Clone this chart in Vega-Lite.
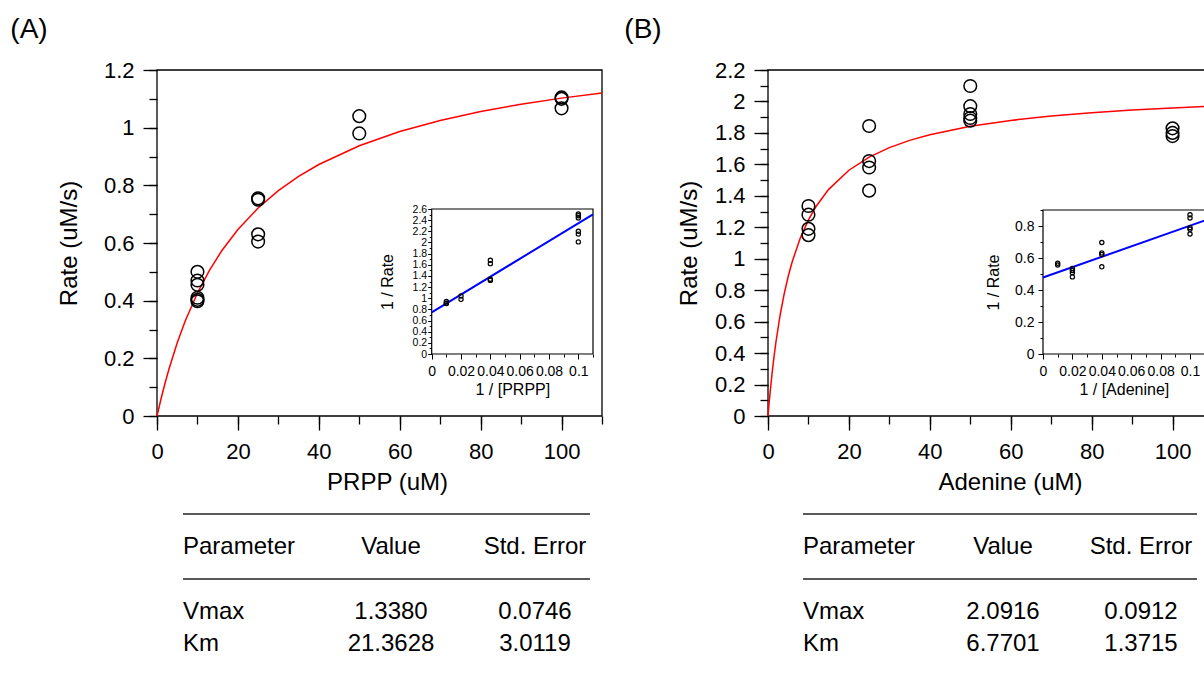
{
  "$schema": "https://vega.github.io/schema/vega-lite/v6.json",
  "width": 1204,
  "height": 674,
  "padding": 0,
  "autosize": {"type": "none"},
  "background": "white",
  "config": {
    "view": {"stroke": null},
    "font": "Liberation Sans",
    "axis": {"grid": false, "domain": false, "tickColor": "#000", "tickWidth": 1.3, "labelColor": "#000", "titleColor": "#000", "titleFontWeight": "normal", "labelOverlap": false, "labelFlush": false, "labelBound": false, "labelFont": "Liberation Sans", "titleFont": "Liberation Sans"}
  },
  "datasets": {
    "mainA": [
      {"conc": 10, "rate": 0.5}, {"conc": 10, "rate": 0.47}, {"conc": 10, "rate": 0.455}, {"conc": 10, "rate": 0.41}, {"conc": 10, "rate": 0.403}, {"conc": 10, "rate": 0.398},
      {"conc": 25, "rate": 0.755}, {"conc": 25, "rate": 0.75}, {"conc": 25, "rate": 0.63}, {"conc": 25, "rate": 0.605},
      {"conc": 50, "rate": 1.04}, {"conc": 50, "rate": 0.98},
      {"conc": 100, "rate": 1.105}, {"conc": 100, "rate": 1.1}, {"conc": 100, "rate": 1.067}
    ],
    "curveA": [
      {"conc": 0, "rate": 0}, {"conc": 1, "rate": 0.05983}, {"conc": 2, "rate": 0.11454}, {"conc": 3, "rate": 0.16476}, {"conc": 5, "rate": 0.25377}, {"conc": 7, "rate": 0.33022}, {"conc": 10, "rate": 0.42662}, {"conc": 13, "rate": 0.50618}, {"conc": 16, "rate": 0.57297}, {"conc": 20, "rate": 0.64695}, {"conc": 25, "rate": 0.72148}, {"conc": 30, "rate": 0.7815}, {"conc": 35, "rate": 0.83087}, {"conc": 40, "rate": 0.87219}, {"conc": 50, "rate": 0.93746}, {"conc": 60, "rate": 0.98669}, {"conc": 70, "rate": 1.02514}, {"conc": 80, "rate": 1.05601}, {"conc": 90, "rate": 1.08133}, {"conc": 100, "rate": 1.10248}, {"conc": 110, "rate": 1.12041}
    ],
    "insetA": [
      {"inv_conc": 0.01, "inv_rate": 0.94}, {"inv_conc": 0.01, "inv_rate": 0.91}, {"inv_conc": 0.01, "inv_rate": 0.905},
      {"inv_conc": 0.02, "inv_rate": 1.04}, {"inv_conc": 0.02, "inv_rate": 0.98},
      {"inv_conc": 0.04, "inv_rate": 1.68}, {"inv_conc": 0.04, "inv_rate": 1.62}, {"inv_conc": 0.04, "inv_rate": 1.34}, {"inv_conc": 0.04, "inv_rate": 1.32},
      {"inv_conc": 0.1, "inv_rate": 2.51}, {"inv_conc": 0.1, "inv_rate": 2.48}, {"inv_conc": 0.1, "inv_rate": 2.44}, {"inv_conc": 0.1, "inv_rate": 2.2}, {"inv_conc": 0.1, "inv_rate": 2.15}, {"inv_conc": 0.1, "inv_rate": 2.01}
    ],
    "lineA": [{"inv_conc": 0, "inv_rate": 0.7474}, {"inv_conc": 0.11, "inv_rate": 2.5037}],
    "mainB": [
      {"conc": 10, "rate": 1.335}, {"conc": 10, "rate": 1.28}, {"conc": 10, "rate": 1.19}, {"conc": 10, "rate": 1.15},
      {"conc": 25, "rate": 1.844}, {"conc": 25, "rate": 1.621}, {"conc": 25, "rate": 1.58}, {"conc": 25, "rate": 1.433},
      {"conc": 50, "rate": 2.098}, {"conc": 50, "rate": 1.97}, {"conc": 50, "rate": 1.92}, {"conc": 50, "rate": 1.895}, {"conc": 50, "rate": 1.878},
      {"conc": 100, "rate": 1.829}, {"conc": 100, "rate": 1.8}, {"conc": 100, "rate": 1.78}
    ],
    "curveB": [
      {"conc": 0, "rate": 0}, {"conc": 0.25, "rate": 0.07449}, {"conc": 0.5, "rate": 0.14385}, {"conc": 1, "rate": 0.26918}, {"conc": 1.5, "rate": 0.37937}, {"conc": 2, "rate": 0.47698}, {"conc": 3, "rate": 0.64224}, {"conc": 4, "rate": 0.77681}, {"conc": 5, "rate": 0.88852}, {"conc": 6, "rate": 0.98273}, {"conc": 8, "rate": 1.13289}, {"conc": 10, "rate": 1.24722}, {"conc": 12, "rate": 1.33719}, {"conc": 15, "rate": 1.44116}, {"conc": 20, "rate": 1.56264}, {"conc": 25, "rate": 1.64589}, {"conc": 30, "rate": 1.70649}, {"conc": 35, "rate": 1.7526}, {"conc": 40, "rate": 1.78884}, {"conc": 50, "rate": 1.84217}, {"conc": 60, "rate": 1.87952}, {"conc": 70, "rate": 1.90715}, {"conc": 80, "rate": 1.92842}, {"conc": 90, "rate": 1.94527}, {"conc": 100, "rate": 1.95898}, {"conc": 110, "rate": 1.97033}
    ],
    "insetB": [
      {"inv_conc": 0.01, "inv_rate": 0.567}, {"inv_conc": 0.01, "inv_rate": 0.556},
      {"inv_conc": 0.02, "inv_rate": 0.535}, {"inv_conc": 0.02, "inv_rate": 0.522}, {"inv_conc": 0.02, "inv_rate": 0.508}, {"inv_conc": 0.02, "inv_rate": 0.482},
      {"inv_conc": 0.04, "inv_rate": 0.697}, {"inv_conc": 0.04, "inv_rate": 0.632}, {"inv_conc": 0.04, "inv_rate": 0.622}, {"inv_conc": 0.04, "inv_rate": 0.545},
      {"inv_conc": 0.1, "inv_rate": 0.87}, {"inv_conc": 0.1, "inv_rate": 0.85}, {"inv_conc": 0.1, "inv_rate": 0.79}, {"inv_conc": 0.1, "inv_rate": 0.78}, {"inv_conc": 0.1, "inv_rate": 0.75}
    ],
    "lineB": [{"inv_conc": 0, "inv_rate": 0.4781}, {"inv_conc": 0.11, "inv_rate": 0.8342}],
    "tableA": [
      {"line": 2, "col": "Parameter", "text": "Parameter"}, {"line": 2, "col": "Value", "text": "Value"}, {"line": 2, "col": "Std. Error", "text": "Std. Error"},
      {"line": 4, "col": "Parameter", "text": "Vmax"}, {"line": 4, "col": "Value", "text": "1.3380"}, {"line": 4, "col": "Std. Error", "text": "0.0746"},
      {"line": 5, "col": "Parameter", "text": "Km"}, {"line": 5, "col": "Value", "text": "21.3628"}, {"line": 5, "col": "Std. Error", "text": "3.0119"}
    ],
    "tableB": [
      {"line": 2, "col": "Parameter", "text": "Parameter"}, {"line": 2, "col": "Value", "text": "Value"}, {"line": 2, "col": "Std. Error", "text": "Std. Error"},
      {"line": 4, "col": "Parameter", "text": "Vmax"}, {"line": 4, "col": "Value", "text": "2.0916"}, {"line": 4, "col": "Std. Error", "text": "0.0912"},
      {"line": 5, "col": "Parameter", "text": "Km"}, {"line": 5, "col": "Value", "text": "6.7701"}, {"line": 5, "col": "Std. Error", "text": "1.3715"}
    ],
    "rules": [{"line": 1}, {"line": 3}],
    "panels": [{"panel": "(A)"}, {"panel": "(B)"}]
  },
  "resolve": {"scale": {"x": "independent", "y": "independent"}, "axis": {"x": "independent", "y": "independent"}},
  "layer": [
    {
      "data": {"values": [{}]},
      "mark": {"type": "rect", "fillOpacity": 0, "stroke": "#000", "strokeWidth": 1.3},
      "encoding": {
        "x": {"datum": 0, "type": "quantitative", "scale": {"domain": [0, 110], "range": [157, 602], "nice": false, "zero": false}, "axis": null},
        "x2": {"datum": 110},
        "y": {"datum": 0, "type": "quantitative", "scale": {"domain": [0, 1.2], "range": [416, 70], "nice": false, "zero": false}, "axis": null},
        "y2": {"datum": 1.2}
      }
    },
    {
      "data": {"name": "curveA"},
      "mark": {"type": "line", "color": "#ff0000", "strokeWidth": 1.5},
      "encoding": {
        "x": {"field": "conc", "type": "quantitative", "scale": {"domain": [0, 110], "range": [157, 602], "nice": false, "zero": false},
          "axis": {"orient": "bottom", "offset": -258, "values": [0, 10, 20, 30, 40, 50, 60, 70, 80, 90, 100, 110], "labels": false, "tickSize": 8, "title": null}},
        "y": {"field": "rate", "type": "quantitative", "scale": {"domain": [0, 1.2], "range": [416, 70], "nice": false, "zero": false},
          "axis": {"orient": "left", "offset": -157, "values": [0, 0.1, 0.2, 0.3, 0.4, 0.5, 0.6, 0.7, 0.8, 0.9, 1, 1.1, 1.2], "labels": false, "tickSize": 8, "title": null}}
      }
    },
    {
      "data": {"name": "mainA"},
      "mark": {"type": "point", "shape": "circle", "filled": false, "size": 160, "stroke": "#000", "strokeWidth": 1.5, "opacity": 1},
      "encoding": {
        "x": {"field": "conc", "type": "quantitative", "scale": {"domain": [0, 110], "range": [157, 602], "nice": false, "zero": false},
          "axis": {"orient": "bottom", "offset": -258, "values": [0, 20, 40, 60, 80, 100], "format": "d", "tickSize": 14, "labelFontSize": 22, "labelPadding": 11, "title": "PRPP (uM)", "titleFontSize": 24, "titlePadding": 8, "titleX": 387}},
        "y": {"field": "rate", "type": "quantitative", "scale": {"domain": [0, 1.2], "range": [416, 70], "nice": false, "zero": false},
          "axis": {"orient": "left", "offset": -157, "values": [0, 0.2, 0.4, 0.6, 0.8, 1, 1.2], "format": "~g", "tickSize": 14, "labelFontSize": 22, "labelPadding": 9, "title": "Rate (uM/s)", "titleFontSize": 24, "titleX": -88, "titleBaseline": "middle"}}
      }
    },
    {
      "data": {"values": [{}]},
      "mark": {"type": "rect", "fill": "white", "stroke": "#000", "strokeWidth": 1.2},
      "encoding": {
        "x": {"datum": 0, "type": "quantitative", "scale": {"domain": [0, 0.11], "range": [431.7, 593], "nice": false, "zero": false}, "axis": null},
        "x2": {"datum": 0.11},
        "y": {"datum": 0, "type": "quantitative", "scale": {"domain": [0, 2.6], "range": [354, 209], "nice": false, "zero": false}, "axis": null},
        "y2": {"datum": 2.6}
      }
    },
    {
      "data": {"name": "lineA"},
      "mark": {"type": "line", "color": "#0000ff", "strokeWidth": 2},
      "encoding": {
        "x": {"field": "inv_conc", "type": "quantitative", "scale": {"domain": [0, 0.11], "range": [431.7, 593], "nice": false, "zero": false},
          "axis": {"orient": "bottom", "offset": -320, "values": [0, 0.01, 0.02, 0.03, 0.04, 0.05, 0.06, 0.07, 0.08, 0.09, 0.1, 0.11], "labels": false, "tickSize": 3, "tickWidth": 1, "title": null}},
        "y": {"field": "inv_rate", "type": "quantitative", "scale": {"domain": [0, 2.6], "range": [354, 209], "nice": false, "zero": false},
          "axis": {"orient": "left", "offset": -431.7, "values": [0, 0.1, 0.2, 0.3, 0.4, 0.5, 0.6, 0.7, 0.8, 0.9, 1, 1.1, 1.2, 1.3, 1.4, 1.5, 1.6, 1.7, 1.8, 1.9, 2, 2.1, 2.2, 2.3, 2.4, 2.5, 2.6], "labels": false, "tickSize": 2.5, "tickWidth": 1, "title": null}}
      }
    },
    {
      "data": {"name": "insetA"},
      "mark": {"type": "point", "shape": "circle", "filled": false, "size": 18, "stroke": "#000", "strokeWidth": 1.2, "opacity": 1},
      "encoding": {
        "x": {"field": "inv_conc", "type": "quantitative", "scale": {"domain": [0, 0.11], "range": [431.7, 593], "nice": false, "zero": false},
          "axis": {"orient": "bottom", "offset": -320, "values": [0, 0.02, 0.04, 0.06, 0.08, 0.1], "format": "~g", "tickSize": 5, "tickWidth": 1, "labelFontSize": 14, "labelPadding": 5, "title": "1 / [PRPP]", "titleFontSize": 16, "titlePadding": 3}},
        "y": {"field": "inv_rate", "type": "quantitative", "scale": {"domain": [0, 2.6], "range": [354, 209], "nice": false, "zero": false},
          "axis": {"orient": "left", "offset": -431.7, "values": [0, 0.2, 0.4, 0.6, 0.8, 1, 1.2, 1.4, 1.6, 1.8, 2, 2.2, 2.4, 2.6], "format": "~g", "tickSize": 4, "tickWidth": 1, "labelFontSize": 10.5, "labelPadding": 1, "title": "1 / Rate", "titleFontSize": 16, "titleX": -44, "titleBaseline": "middle"}}
      }
    },
    {
      "data": {"values": [{}]},
      "mark": {"type": "rect", "fillOpacity": 0, "stroke": "#000", "strokeWidth": 1.3},
      "encoding": {
        "x": {"datum": 0, "type": "quantitative", "scale": {"domain": [0, 110], "range": [768, 1213], "nice": false, "zero": false}, "axis": null},
        "x2": {"datum": 110},
        "y": {"datum": 0, "type": "quantitative", "scale": {"domain": [0, 2.2], "range": [416, 70], "nice": false, "zero": false}, "axis": null},
        "y2": {"datum": 2.2}
      }
    },
    {
      "data": {"name": "curveB"},
      "mark": {"type": "line", "color": "#ff0000", "strokeWidth": 1.5},
      "encoding": {
        "x": {"field": "conc", "type": "quantitative", "scale": {"domain": [0, 110], "range": [768, 1213], "nice": false, "zero": false},
          "axis": {"orient": "bottom", "offset": -258, "values": [0, 10, 20, 30, 40, 50, 60, 70, 80, 90, 100, 110], "labels": false, "tickSize": 8, "title": null}},
        "y": {"field": "rate", "type": "quantitative", "scale": {"domain": [0, 2.2], "range": [416, 70], "nice": false, "zero": false},
          "axis": {"orient": "left", "offset": -768, "values": [0, 0.1, 0.2, 0.3, 0.4, 0.5, 0.6, 0.7, 0.8, 0.9, 1, 1.1, 1.2, 1.3, 1.4, 1.5, 1.6, 1.7, 1.8, 1.9, 2, 2.1, 2.2], "labels": false, "tickSize": 8, "title": null}}
      }
    },
    {
      "data": {"name": "mainB"},
      "mark": {"type": "point", "shape": "circle", "filled": false, "size": 160, "stroke": "#000", "strokeWidth": 1.5, "opacity": 1},
      "encoding": {
        "x": {"field": "conc", "type": "quantitative", "scale": {"domain": [0, 110], "range": [768, 1213], "nice": false, "zero": false},
          "axis": {"orient": "bottom", "offset": -258, "values": [0, 20, 40, 60, 80, 100], "format": "d", "tickSize": 14, "labelFontSize": 22, "labelPadding": 11, "title": "Adenine (uM)", "titleFontSize": 24, "titlePadding": 8, "titleX": 1010}},
        "y": {"field": "rate", "type": "quantitative", "scale": {"domain": [0, 2.2], "range": [416, 70], "nice": false, "zero": false},
          "axis": {"orient": "left", "offset": -768, "values": [0, 0.2, 0.4, 0.6, 0.8, 1, 1.2, 1.4, 1.6, 1.8, 2, 2.2], "format": "~g", "tickSize": 14, "labelFontSize": 22, "labelPadding": 9, "title": "Rate (uM/s)", "titleFontSize": 24, "titleX": -79, "titleBaseline": "middle"}}
      }
    },
    {
      "data": {"values": [{}]},
      "mark": {"type": "rect", "fill": "white", "stroke": "#000", "strokeWidth": 1.2},
      "encoding": {
        "x": {"datum": 0, "type": "quantitative", "scale": {"domain": [0, 0.11], "range": [1043, 1204.7], "nice": false, "zero": false}, "axis": null},
        "x2": {"datum": 0.11},
        "y": {"datum": 0, "type": "quantitative", "scale": {"domain": [0, 0.9], "range": [354, 210], "nice": false, "zero": false}, "axis": null},
        "y2": {"datum": 0.9}
      }
    },
    {
      "data": {"name": "lineB"},
      "mark": {"type": "line", "color": "#0000ff", "strokeWidth": 2},
      "encoding": {
        "x": {"field": "inv_conc", "type": "quantitative", "scale": {"domain": [0, 0.11], "range": [1043, 1204.7], "nice": false, "zero": false},
          "axis": {"orient": "bottom", "offset": -320, "values": [0, 0.01, 0.02, 0.03, 0.04, 0.05, 0.06, 0.07, 0.08, 0.09, 0.1, 0.11], "labels": false, "tickSize": 3, "tickWidth": 1, "title": null}},
        "y": {"field": "inv_rate", "type": "quantitative", "scale": {"domain": [0, 0.9], "range": [354, 210], "nice": false, "zero": false},
          "axis": {"orient": "left", "offset": -1043, "values": [0, 0.1, 0.2, 0.3, 0.4, 0.5, 0.6, 0.7, 0.8, 0.9], "labels": false, "tickSize": 3, "tickWidth": 1, "title": null}}
      }
    },
    {
      "data": {"name": "insetB"},
      "mark": {"type": "point", "shape": "circle", "filled": false, "size": 18, "stroke": "#000", "strokeWidth": 1.2, "opacity": 1},
      "encoding": {
        "x": {"field": "inv_conc", "type": "quantitative", "scale": {"domain": [0, 0.11], "range": [1043, 1204.7], "nice": false, "zero": false},
          "axis": {"orient": "bottom", "offset": -320, "values": [0, 0.02, 0.04, 0.06, 0.08, 0.1], "format": "~g", "tickSize": 5, "tickWidth": 1, "labelFontSize": 14, "labelPadding": 5, "title": "1 / [Adenine]", "titleFontSize": 16, "titlePadding": 3}},
        "y": {"field": "inv_rate", "type": "quantitative", "scale": {"domain": [0, 0.9], "range": [354, 210], "nice": false, "zero": false},
          "axis": {"orient": "left", "offset": -1043, "values": [0, 0.2, 0.4, 0.6, 0.8], "format": "~g", "tickSize": 5, "tickWidth": 1, "labelFontSize": 14, "labelPadding": 4, "title": "1 / Rate", "titleFontSize": 16, "titleX": -50, "titleBaseline": "middle"}}
      }
    },
    {
      "data": {"name": "rules"},
      "mark": {"type": "rule", "color": "#222", "strokeWidth": 1.5},
      "encoding": {
        "x": {"datum": 0, "type": "quantitative", "scale": {"domain": [0, 1], "range": [183, 590], "nice": false, "zero": false}, "axis": null},
        "x2": {"datum": 1},
        "y": {"field": "line", "type": "ordinal", "scale": {"type": "point", "domain": [1, 2, 3, 4, 5], "range": [514, 644], "padding": 0}, "axis": null}
      }
    },
    {
      "data": {"name": "tableA"},
      "transform": [{"filter": "datum.col === 'Parameter'"}],
      "mark": {"type": "text", "align": "left", "baseline": "middle", "fontSize": 24, "color": "#000"},
      "encoding": {
        "x": {"field": "col", "type": "nominal", "scale": {"type": "point", "domain": ["Parameter", "Value", "Std. Error"], "range": [183, 535], "padding": 0}, "axis": null},
        "y": {"field": "line", "type": "ordinal", "scale": {"type": "point", "domain": [1, 2, 3, 4, 5], "range": [514, 644], "padding": 0}, "axis": null},
        "text": {"field": "text"}
      }
    },
    {
      "data": {"name": "tableA"},
      "transform": [{"filter": "datum.col !== 'Parameter'"}],
      "mark": {"type": "text", "align": "center", "baseline": "middle", "fontSize": 24, "color": "#000"},
      "encoding": {
        "x": {"field": "col", "type": "nominal", "scale": {"type": "point", "domain": ["Parameter", "Value", "Std. Error"], "range": [247, 535], "padding": 0}, "axis": null},
        "y": {"field": "line", "type": "ordinal", "scale": {"type": "point", "domain": [1, 2, 3, 4, 5], "range": [514, 644], "padding": 0}, "axis": null},
        "text": {"field": "text"}
      }
    },
    {
      "data": {"name": "rules"},
      "mark": {"type": "rule", "color": "#222", "strokeWidth": 1.5},
      "encoding": {
        "x": {"datum": 0, "type": "quantitative", "scale": {"domain": [0, 1], "range": [803, 1197], "nice": false, "zero": false}, "axis": null},
        "x2": {"datum": 1},
        "y": {"field": "line", "type": "ordinal", "scale": {"type": "point", "domain": [1, 2, 3, 4, 5], "range": [514, 644], "padding": 0}, "axis": null}
      }
    },
    {
      "data": {"name": "tableB"},
      "transform": [{"filter": "datum.col === 'Parameter'"}],
      "mark": {"type": "text", "align": "left", "baseline": "middle", "fontSize": 24, "color": "#000"},
      "encoding": {
        "x": {"field": "col", "type": "nominal", "scale": {"type": "point", "domain": ["Parameter", "Value", "Std. Error"], "range": [803, 1141], "padding": 0}, "axis": null},
        "y": {"field": "line", "type": "ordinal", "scale": {"type": "point", "domain": [1, 2, 3, 4, 5], "range": [514, 644], "padding": 0}, "axis": null},
        "text": {"field": "text"}
      }
    },
    {
      "data": {"name": "tableB"},
      "transform": [{"filter": "datum.col !== 'Parameter'"}],
      "mark": {"type": "text", "align": "center", "baseline": "middle", "fontSize": 24, "color": "#000"},
      "encoding": {
        "x": {"field": "col", "type": "nominal", "scale": {"type": "point", "domain": ["Parameter", "Value", "Std. Error"], "range": [865, 1141], "padding": 0}, "axis": null},
        "y": {"field": "line", "type": "ordinal", "scale": {"type": "point", "domain": [1, 2, 3, 4, 5], "range": [514, 644], "padding": 0}, "axis": null},
        "text": {"field": "text"}
      }
    },
    {
      "data": {"name": "panels"},
      "mark": {"type": "text", "align": "center", "baseline": "middle", "fontSize": 28, "color": "#000"},
      "encoding": {
        "x": {"field": "panel", "type": "nominal", "scale": {"type": "point", "domain": ["(A)", "(B)"], "range": [29, 643], "padding": 0}, "axis": null},
        "y": {"field": "panel", "type": "nominal", "scale": {"type": "point", "domain": ["(A)", "(B)"], "range": [30, 30], "padding": 0}, "axis": null},
        "text": {"field": "panel"}
      }
    }
  ]
}
